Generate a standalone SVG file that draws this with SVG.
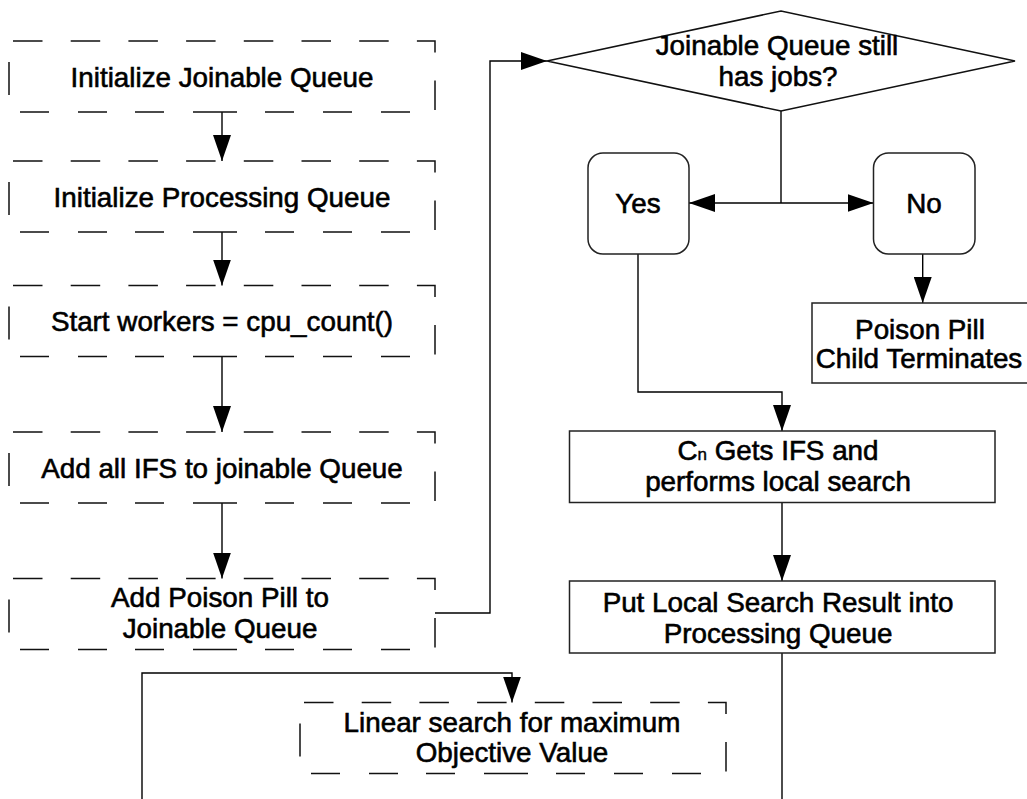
<svg xmlns="http://www.w3.org/2000/svg" xmlns:xlink="http://www.w3.org/1999/xlink" width="1027" height="799" viewBox="0 0 1027 799">
  <style>
    .t { font-family: "Liberation Sans", Arial, Helvetica, sans-serif; font-size: 27.8px; fill: #000; stroke: #000; stroke-width: 0.6; text-anchor: middle; }
    .sub { font-size: 17px; stroke-width: 0.4; }
    .frame { fill: none; stroke: #111; stroke-width: 1.5; }
    .box { fill: #fff; stroke: #222; stroke-width: 1.5; }
    .edge { fill: none; stroke: #000; stroke-width: 1.4; }
  </style>
  <defs>
    <marker id="arrow" markerUnits="userSpaceOnUse" markerWidth="26" markerHeight="18" refX="26" refY="9" orient="auto">
      <path d="M0,0 L26,9 L0,18 Z" fill="#000"/>
    </marker>
    <!-- dashed outline shared by the 426x71 process boxes -->
    <path id="dashFrame" class="frame" d="M4,0h29.5 M61.7,0h29.5 M119.4,0h29.5 M177.1,0h29.5 M234.8,0h29.5 M292.5,0h29.5 M350.2,0h29.5 M407.9,0H426v11.4 M426,39.6V69.1 M401,71H372 M343,71H314 M285,71H256 M228,71H184 M155,71H126 M98,71H69 M40,71H11 M0,21V54"/>
  </defs>

  <rect width="1027" height="799" fill="#fff"/>

  <!-- connectors -->
  <g id="connectors">
    <path class="edge" d="M222,112V161" marker-end="url(#arrow)"/>
    <path class="edge" d="M222,232V285.5" marker-end="url(#arrow)"/>
    <path class="edge" d="M222,356.5V432" marker-end="url(#arrow)"/>
    <path class="edge" d="M222,503V578.5" marker-end="url(#arrow)"/>
    <path class="edge" d="M435,613H490V61H547" marker-end="url(#arrow)"/>
    <path class="edge" d="M781,111V203"/>
    <path class="edge" d="M781,203H689" marker-end="url(#arrow)"/>
    <path class="edge" d="M781,203H873.5" marker-end="url(#arrow)"/>
    <path class="edge" d="M638,254V392H782V431" marker-end="url(#arrow)"/>
    <path class="edge" d="M922.7,254V303" marker-end="url(#arrow)"/>
    <path class="edge" d="M782,502.5V581" marker-end="url(#arrow)"/>
    <path class="edge" d="M782,653V800"/>
    <path class="edge" d="M142,800V673H512V702.5" marker-end="url(#arrow)"/>
  </g>

  <g id="init-joinable">
    <use xlink:href="#dashFrame" href="#dashFrame" transform="translate(9,41)"/>
    <text class="t" x="222" y="87">Initialize Joinable Queue</text>
  </g>

  <g id="init-processing">
    <use xlink:href="#dashFrame" href="#dashFrame" transform="translate(9,161)"/>
    <text class="t" x="222" y="207">Initialize Processing Queue</text>
  </g>

  <g id="start-workers">
    <use xlink:href="#dashFrame" href="#dashFrame" transform="translate(9,285.5)"/>
    <text class="t" x="222" y="331">Start workers = cpu_count()</text>
  </g>

  <g id="add-ifs">
    <use xlink:href="#dashFrame" href="#dashFrame" transform="translate(9,432)"/>
    <text class="t" x="222" y="478">Add all IFS to joinable Queue</text>
  </g>

  <g id="add-poison">
    <use xlink:href="#dashFrame" href="#dashFrame" transform="translate(9,578.5)"/>
    <text class="t" x="220" y="607">Add Poison Pill to</text>
    <text class="t" x="220" y="638">Joinable Queue</text>
  </g>

  <g id="has-jobs">
    <polygon points="547,61 781,11 1015,61 781,111" fill="#fff" stroke="#111" stroke-width="1.5"/>
    <text class="t" x="777" y="55">Joinable Queue still</text>
    <text class="t" x="778" y="86">has jobs?</text>
  </g>

  <g id="yes">
    <rect class="box" x="588" y="153" width="101" height="101" rx="15" ry="15"/>
    <text class="t" x="638" y="213">Yes</text>
  </g>

  <g id="no">
    <rect class="box" x="873.5" y="153" width="101.5" height="101" rx="15" ry="15"/>
    <text class="t" x="924" y="213">No</text>
  </g>

  <g id="child-terminates">
    <rect class="box" x="812" y="303" width="222" height="80"/>
    <text class="t" x="920" y="339">Poison Pill</text>
    <text class="t" x="919" y="368">Child Terminates</text>
  </g>

  <g id="local-search">
    <rect class="box" x="569.5" y="431" width="425.5" height="71.5"/>
    <text class="t" x="778" y="460">C<tspan class="sub">n</tspan> Gets IFS and</text>
    <text class="t" x="778" y="491">performs local search</text>
  </g>

  <g id="put-result">
    <rect class="box" x="569.5" y="581" width="425.5" height="72"/>
    <text class="t" x="778" y="612">Put Local Search Result into</text>
    <text class="t" x="778" y="643">Processing Queue</text>
  </g>

  <g id="linear-search">
    <use xlink:href="#dashFrame" href="#dashFrame" transform="translate(300,702.5)"/>
    <text class="t" x="512" y="732">Linear search for maximum</text>
    <text class="t" x="512" y="762">Objective Value</text>
  </g>
</svg>
